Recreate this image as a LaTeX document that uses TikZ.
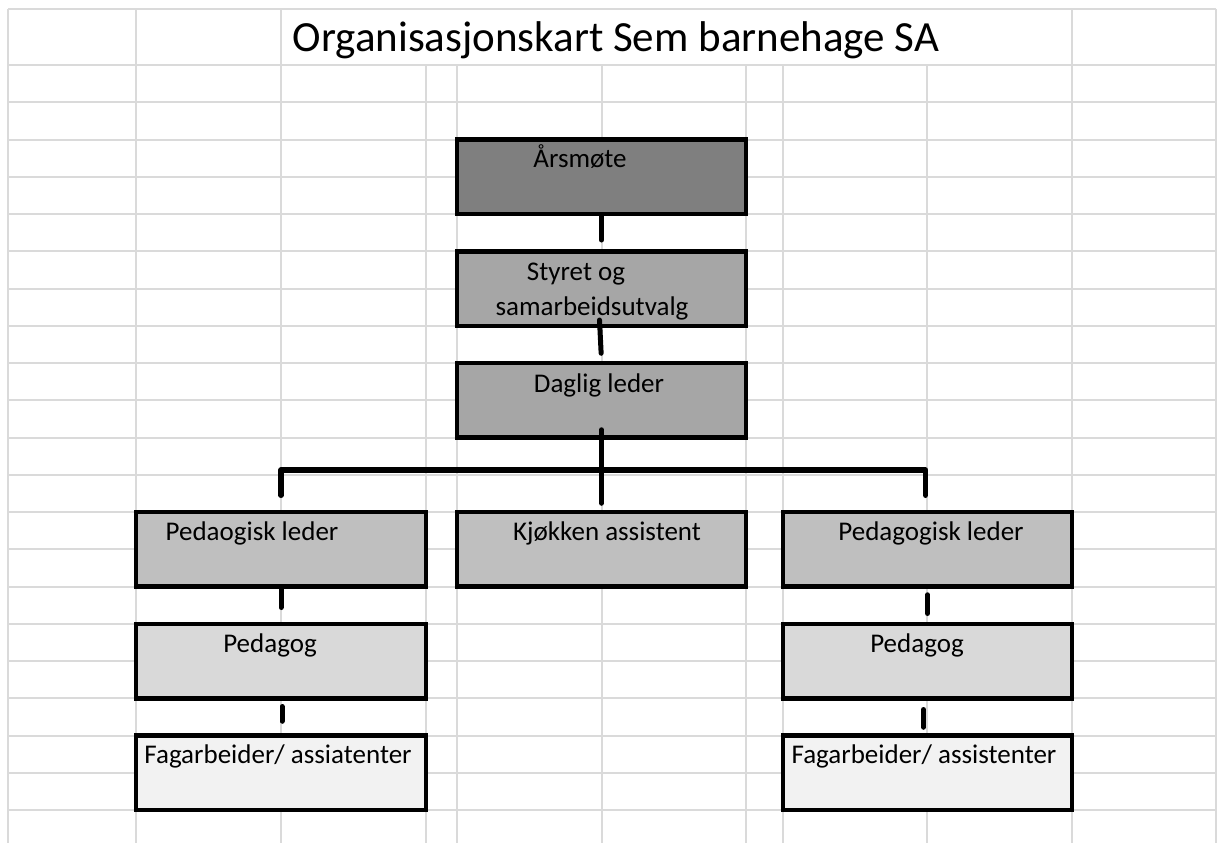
\documentclass[tikz,border=0pt]{standalone}
\usepackage{fontspec}
\setmainfont{Carlito}
\usetikzlibrary{positioning}

\definecolor{gridgray}{HTML}{DADADA}
\definecolor{shadeA}{HTML}{7F7F7F}
\definecolor{shadeB}{HTML}{A6A6A6}
\definecolor{shadeC}{HTML}{BFBFBF}
\definecolor{shadeD}{HTML}{D9D9D9}
\definecolor{shadeE}{HTML}{F2F2F2}

\begin{document}
\begin{tikzpicture}[x=1pt, y=-1pt,
        cell/.style={gridgray, line width=2pt},
        orgbox/.style={draw, line width=4.5pt, inner sep=0pt, minimum height=74.5pt},
        midbox/.style={orgbox, minimum width=289pt},
        sidebox/.style={orgbox, minimum width=290pt},
        boxtext/.style={anchor=base, inner sep=0pt, align=center, font=\fontsize{27}{35}\selectfont},
        link/.style={line width=5pt, line cap=round, line join=round}]

        \useasboundingbox (0,0) rectangle (1217,843);

        % Spreadsheet grid behind the chart
        \foreach \x in {8,136,281,1072,1216} {
            \draw[cell] (\x,9) -- (\x,843);
        }
        \foreach \x in {426,457,602,746,783,927} {
            \draw[cell] (\x,65) -- (\x,843);
        }
        \draw[cell] (8,9) -- (1216,9);
        \foreach \k in {0,...,20} {
            \draw[cell] (8,{65+37.25*\k}) -- (1216,{65+37.25*\k});
        }

        % Title
        \node[anchor=base, inner sep=0pt, font=\fontsize{43}{50}\selectfont] (title) at (616,52) {Organisasjonskart Sem barnehage SA};

        % Boxes
        \node[midbox, fill=shadeA] (aars) at (601.5,176.75) {};
        \node[midbox, fill=shadeB] (styret) at (601.5,288.5) {};
        \node[midbox, fill=shadeB] (daglig) at (601.5,400.25) {};
        \node[sidebox, fill=shadeC] (pedL) at (281,549.25) {};
        \node[midbox, fill=shadeC] (kjokken) at (601.5,549.25) {};
        \node[midbox, fill=shadeC] (pedR) at (927.5,549.25) {};
        \node[sidebox, fill=shadeD] (pedagL) at (281,661) {};
        \node[midbox, fill=shadeD] (pedagR) at (927.5,661) {};
        \node[sidebox, fill=shadeE] (fagL) at (281,772.75) {};
        \node[midbox, fill=shadeE] (fagR) at (927.5,772.75) {};

        % Box texts
        \node[boxtext] (aars-txt) at (580,167) {Årsmøte};
        \node[boxtext] (styret-txt) at (592,315) {Styret og\hspace*{32pt}\\samarbeidsutvalg};
        \node[boxtext] (daglig-txt) at (599,392) {Daglig leder};
        \node[boxtext] (pedL-txt) at (252,540) {Pedaogisk leder};
        \node[boxtext] (kjokken-txt) at (607,540) {Kjøkken assistent};
        \node[boxtext] (pedR-txt) at (931,540) {Pedagogisk leder};
        \node[boxtext] (pedagL-txt) at (270,652) {Pedagog};
        \node[boxtext] (pedagR-txt) at (917,652) {Pedagog};
        \node[boxtext] (fagL-txt) at (278,763) {Fagarbeider/ assiatenter};
        \node[boxtext] (fagR-txt) at (924,763) {Fagarbeider/ assistenter};

        % Connectors
        \coordinate (split) at (601.5,470);
        \draw[link, shorten >=9pt] (aars.south) -- (styret.north);
        \draw[link, shorten >=7.5pt] ([xshift=-2pt, yshift=8pt]styret.south) -- (daglig.north);
        \draw[link, shorten >=6.5pt] ([yshift=10pt]daglig.south) -- (kjokken.north);
        \draw[link, line width=5.5pt] ([yshift=14.5pt]pedL.north) |- (split) -| ([xshift=-2pt, yshift=14.5pt]pedR.north);
        \draw[link, shorten >=14pt] (pedL.south) -- (pedagL.north);
        \draw[link, shorten <=6pt, shorten >=12pt] ([xshift=1pt]pedagL.south) -- ([xshift=1pt]fagL.north);
        \draw[link, shorten <=6pt, shorten >=8pt] (pedR.south) -- (pedagR.north);
        \draw[link, shorten <=9pt, shorten >=6pt] ([xshift=-4pt]pedagR.south) -- ([xshift=-4pt]fagR.north);
    \end{tikzpicture}
\end{document}
